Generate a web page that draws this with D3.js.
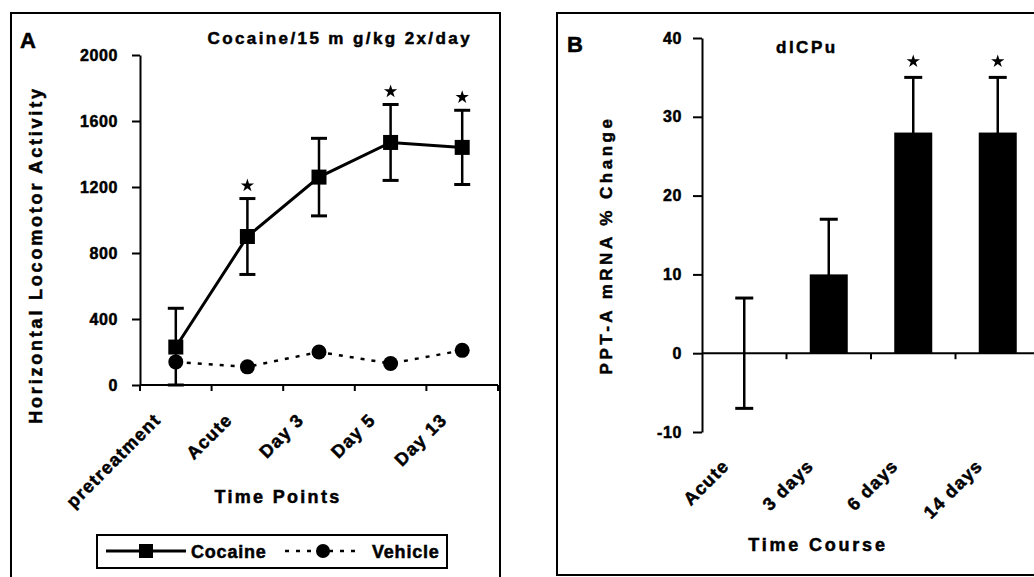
<!DOCTYPE html>
<html>
<head>
<meta charset="utf-8">
<script src="https://cdn.jsdelivr.net/npm/d3@7"></script>
<style>
  html, body { margin: 0; padding: 0; background: #fff; }
  svg { display: block; }
  text { font-family: 'Liberation Sans', Arial, sans-serif; font-weight: bold; fill: #000; stroke: #000; stroke-width: 0.5px; }
</style>
</head>
<body>
<svg id="chart"></svg>
<script>
// ─── data: panel A (locomotor activity) ───
const timePoints = ['pretreatment', 'Acute', 'Day 3', 'Day 5', 'Day 13']
const cocaineMean = [230, 900, 1260, 1470, 1440]
const cocaineErr = [235, 230, 235, 230, 225]
const cocaineSig = [false, true, false, true, true]
const vehicleMean = [140, 110, 200, 130, 210]
const yTicksA = [0, 400, 800, 1200, 1600, 2000]

// ─── data: panel B (PPT-A mRNA) ───
const timeCourse = ['Acute', '3 days', '6 days', '14 days']
const mrnaChange = [0, 10, 28, 28]
const mrnaErr = [7, 7, 7, 7]
const mrnaSig = [false, false, true, true]
const yTicksB = [-10, 0, 10, 20, 30, 40]

const W = 1034, H = 577
const svg = d3.select('#chart').attr('width', W).attr('height', H)

function errorBar(g, x, y1, y2, cap) {
  g.append('line').attr('x1', x).attr('x2', x).attr('y1', y1).attr('y2', y2)
    .attr('stroke', '#000').attr('stroke-width', 2.5)
  ;[y1, y2].forEach(y => {
    g.append('line').attr('x1', x - cap / 2).attr('x2', x + cap / 2).attr('y1', y).attr('y2', y)
      .attr('stroke', '#000').attr('stroke-width', 3)
  })
}

const star = d3.symbol(d3.symbolStar, 55)
const fmt = d => String(d)

// ════════════ Panel A ════════════
const gA = svg.append('g')
gA.append('rect').attr('x', 11).attr('y', 13).attr('width', 489).attr('height', 620)
  .attr('fill', 'none').attr('stroke', '#000').attr('stroke-width', 2)

const xA = d3.scaleBand().domain(timePoints).range([140, 498]).padding(0)
const yA = d3.scaleLinear().domain([0, 2000]).range([385, 55])
const cx = d => xA(d) + xA.bandwidth() / 2

// y axis
gA.append('g').attr('transform', 'translate(140,0)')
  .call(d3.axisLeft(yA).tickValues(yTicksA).tickFormat(fmt).tickSize(8).tickPadding(14).tickSizeOuter(0))
  .call(g => g.select('.domain').attr('stroke-width', 2))
  .call(g => g.selectAll('.tick line').attr('stroke-width', 2))
  .call(g => g.selectAll('.tick text').attr('font-size', '16px').attr('font-family', null).attr('letter-spacing', '0.6px'))

// x axis with ticks on category boundaries
gA.append('line').attr('x1', 140).attr('x2', 498).attr('y1', yA(0)).attr('y2', yA(0))
  .attr('stroke', '#000').attr('stroke-width', 2)
d3.range(timePoints.length + 1).forEach(i => {
  const x = 140 + i * xA.step()
  gA.append('line').attr('x1', x).attr('x2', x).attr('y1', yA(0)).attr('y2', yA(0) + 6)
    .attr('stroke', '#000').attr('stroke-width', 2)
})
gA.selectAll('.xlabA').data(timePoints).join('text')
  .attr('text-anchor', 'end')
  .attr('font-size', '18px')
  .attr('letter-spacing', '1.2px')
  .attr('transform', d => `translate(${cx(d) - 14},${yA(0) + 36}) rotate(-45)`)
  .text(d => d)

// error bars (cocaine)
timePoints.forEach((t, i) => {
  errorBar(gA, cx(t), yA(cocaineMean[i] + cocaineErr[i]), yA(Math.max(0, cocaineMean[i] - cocaineErr[i])), 16)
})

// vehicle dotted line + circles
gA.append('path').datum(timePoints)
  .attr('d', d3.line().x(d => cx(d)).y((d, i) => yA(vehicleMean[i])))
  .attr('fill', 'none').attr('stroke', '#000').attr('stroke-width', 2.5).attr('stroke-dasharray', '4,7')
gA.selectAll('.veh').data(timePoints).join('circle')
  .attr('cx', d => cx(d)).attr('cy', (d, i) => yA(vehicleMean[i])).attr('r', 7.5).attr('fill', '#000')

// cocaine solid line + squares
gA.append('path').datum(timePoints)
  .attr('d', d3.line().x(d => cx(d)).y((d, i) => yA(cocaineMean[i])))
  .attr('fill', 'none').attr('stroke', '#000').attr('stroke-width', 3)
gA.selectAll('.coc').data(timePoints).join('rect')
  .attr('x', d => cx(d) - 7.5).attr('y', (d, i) => yA(cocaineMean[i]) - 7.5)
  .attr('width', 15).attr('height', 15).attr('fill', '#000')

// significance stars
timePoints.forEach((t, i) => {
  if (!cocaineSig[i]) return
  gA.append('path').attr('d', star)
    .attr('transform', `translate(${cx(t)},${yA(cocaineMean[i] + cocaineErr[i]) - 13})`)
})

gA.append('text').attr('x', 20).attr('y', 48).attr('font-size', '22px').text('A')
gA.append('text').attr('x', 472).attr('y', 44).attr('text-anchor', 'end')
  .attr('font-size', '17px').attr('letter-spacing', '2.4px').text('Cocaine/15 m g/kg 2x/day')
gA.append('text').attr('transform', 'translate(42,255) rotate(-90)').attr('text-anchor', 'middle')
  .attr('font-size', '18px').attr('letter-spacing', '2.8px').text('Horizontal Locomotor Activity')
gA.append('text').attr('x', 278).attr('y', 503).attr('text-anchor', 'middle')
  .attr('font-size', '18px').attr('letter-spacing', '2.3px').text('Time Points')

// legend
const lg = gA.append('g')
lg.append('rect').attr('x', 97).attr('y', 535).attr('width', 350).attr('height', 33)
  .attr('fill', '#fff').attr('stroke', '#000').attr('stroke-width', 2)
lg.append('line').attr('x1', 106).attr('x2', 186).attr('y1', 551).attr('y2', 551)
  .attr('stroke', '#000').attr('stroke-width', 3)
lg.append('rect').attr('x', 139).attr('y', 544).attr('width', 14).attr('height', 14).attr('fill', '#000')
lg.append('text').attr('x', 191).attr('y', 558).attr('font-size', '18px').attr('letter-spacing', '0.8px').text('Cocaine')
lg.append('line').attr('x1', 285).attr('x2', 360).attr('y1', 551).attr('y2', 551)
  .attr('stroke', '#000').attr('stroke-width', 2.5).attr('stroke-dasharray', '4,7')
lg.append('circle').attr('cx', 323).attr('cy', 551).attr('r', 7).attr('fill', '#000')
lg.append('text').attr('x', 372).attr('y', 558).attr('font-size', '18px').attr('letter-spacing', '0.8px').text('Vehicle')

// ════════════ Panel B ════════════
const gB = svg.append('g')
gB.append('rect').attr('x', 557).attr('y', 13).attr('width', 620).attr('height', 562)
  .attr('fill', 'none').attr('stroke', '#000').attr('stroke-width', 2)

const xB = d3.scaleBand().domain(timeCourse).range([702, 702 + 4 * 84.5]).padding(0)
const yB = d3.scaleLinear().domain([-10, 40]).range([432, 38])
const bx = d => xB(d) + xB.bandwidth() / 2
const barW = 38

gB.append('g').attr('transform', 'translate(702,0)')
  .call(d3.axisLeft(yB).tickValues(yTicksB).tickFormat(fmt).tickSize(9).tickPadding(11).tickSizeOuter(0))
  .call(g => g.select('.domain').attr('stroke-width', 2))
  .call(g => g.selectAll('.tick line').attr('stroke-width', 2))
  .call(g => g.selectAll('.tick text').attr('font-size', '16px').attr('font-family', null).attr('letter-spacing', '0.6px'))

// error bars then bars
timeCourse.forEach((t, i) => {
  errorBar(gB, bx(t), yB(mrnaChange[i] + mrnaErr[i]), yB(mrnaChange[i] - mrnaErr[i]), 18)
})
gB.selectAll('.bar').data(timeCourse).join('rect')
  .attr('x', d => bx(d) - barW / 2)
  .attr('y', (d, i) => yB(Math.max(0, mrnaChange[i])))
  .attr('width', barW)
  .attr('height', (d, i) => Math.abs(yB(mrnaChange[i]) - yB(0)))
  .attr('fill', '#000')

// zero axis line with boundary ticks
gB.append('line').attr('x1', 702).attr('x2', 702 + 4 * 84.5).attr('y1', yB(0)).attr('y2', yB(0))
  .attr('stroke', '#000').attr('stroke-width', 2)
d3.range(1, timeCourse.length + 1).forEach(i => {
  const x = 702 + i * xB.step()
  gB.append('line').attr('x1', x).attr('x2', x).attr('y1', yB(0)).attr('y2', yB(0) + 6)
    .attr('stroke', '#000').attr('stroke-width', 2)
})

gB.selectAll('.xlabB').data(timeCourse).join('text')
  .attr('text-anchor', 'end')
  .attr('font-size', '18px')
  .attr('letter-spacing', '1.2px')
  .attr('transform', d => `translate(${bx(d) - 14},${yB(-10) + 35}) rotate(-45)`)
  .text(d => d)

timeCourse.forEach((t, i) => {
  if (!mrnaSig[i]) return
  gB.append('path').attr('d', star)
    .attr('transform', `translate(${bx(t)},${yB(mrnaChange[i] + mrnaErr[i]) - 16})`)
})

gB.append('text').attr('x', 567).attr('y', 52).attr('font-size', '22px').text('B')
gB.append('text').attr('x', 776).attr('y', 53).attr('font-size', '17px').attr('letter-spacing', '2.5px').text('dlCPu')
gB.append('text').attr('transform', 'translate(612,245) rotate(-90)').attr('text-anchor', 'middle')
  .attr('font-size', '17px').attr('letter-spacing', '3.5px').text('PPT-A mRNA % Change')
gB.append('text').attr('x', 818).attr('y', 551).attr('text-anchor', 'middle')
  .attr('font-size', '18px').attr('letter-spacing', '2.8px').text('Time Course')
</script>
</body>
</html>
